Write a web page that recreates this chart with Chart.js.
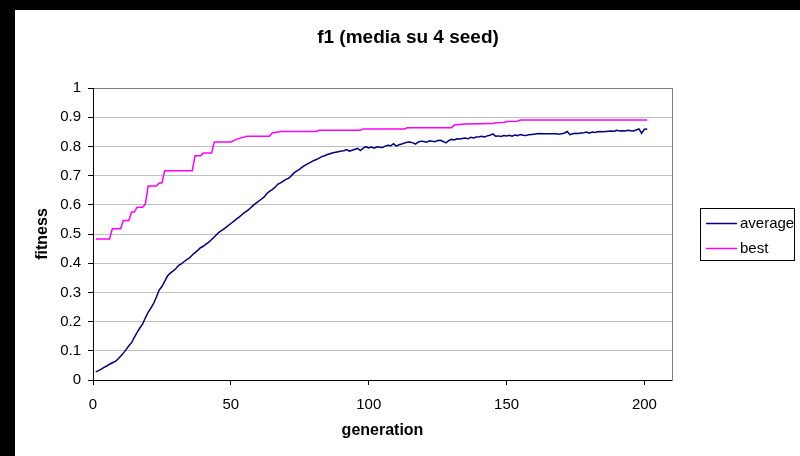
<!DOCTYPE html>
<html>
<head>
<meta charset="utf-8">
<script src="https://cdn.jsdelivr.net/npm/chart.js@4.4.1/dist/chart.umd.min.js"></script>
<style>
  html, body { margin: 0; padding: 0; background: #000; }
  #wrap { position: absolute; left: 15px; top: 10px; width: 785px; height: 446px; background: #fff; }
</style>
</head>
<body>
<div id="wrap"><canvas id="myChart" width="785" height="446"></canvas></div>
<script>
const FONT = "'Liberation Sans', Arial, sans-serif";

// average fitness, one value per generation starting at generation 1
const firstGen = 1;
const avgFitness = [
    0.028, 0.032, 0.037, 0.043, 0.048, 0.054, 0.059, 0.063, 0.071, 0.081,
    0.092, 0.104, 0.117, 0.128, 0.146, 0.163, 0.178, 0.192, 0.213, 0.232,
    0.246, 0.262, 0.284, 0.308, 0.320, 0.338, 0.356, 0.366, 0.373, 0.381,
    0.392, 0.398, 0.405, 0.412, 0.418, 0.428, 0.436, 0.444, 0.453, 0.458,
    0.465, 0.472, 0.481, 0.490, 0.500, 0.508, 0.514, 0.521, 0.529, 0.536,
    0.543, 0.551, 0.558, 0.566, 0.574, 0.580, 0.588, 0.597, 0.605, 0.612,
    0.619, 0.626, 0.638, 0.646, 0.652, 0.660, 0.670, 0.675, 0.681, 0.687,
    0.691, 0.700, 0.710, 0.716, 0.722, 0.730, 0.736, 0.741, 0.746, 0.751,
    0.755, 0.760, 0.765, 0.768, 0.772, 0.775, 0.778, 0.780, 0.782, 0.784,
    0.785, 0.789, 0.784, 0.787, 0.790, 0.793, 0.786, 0.794, 0.799, 0.795,
    0.798, 0.794, 0.799, 0.797, 0.796, 0.801, 0.804, 0.802, 0.809, 0.801,
    0.806, 0.808, 0.812, 0.814, 0.815, 0.812, 0.808, 0.815, 0.818, 0.817,
    0.814, 0.819, 0.818, 0.816, 0.820, 0.821, 0.817, 0.812, 0.820, 0.824,
    0.822, 0.826, 0.825, 0.827, 0.829, 0.826, 0.831, 0.829, 0.832, 0.833,
    0.835, 0.832, 0.836, 0.838, 0.843, 0.835, 0.836, 0.834, 0.837, 0.836,
    0.838, 0.835, 0.839, 0.837, 0.841, 0.838, 0.837, 0.840, 0.841, 0.842,
    0.843, 0.844, 0.843, 0.843, 0.843, 0.843, 0.843, 0.843, 0.842, 0.843,
    0.846, 0.851, 0.840, 0.843, 0.845, 0.844, 0.846, 0.847, 0.849, 0.845,
    0.849, 0.848, 0.850, 0.851, 0.850, 0.851, 0.852, 0.853, 0.852, 0.855,
    0.853, 0.854, 0.853, 0.855, 0.854, 0.853, 0.856, 0.860, 0.845, 0.859,
    0.860
];

// best fitness only changes in steps, so keep the corner points
const bestGen = [1, 6, 7, 10, 11, 13, 14, 15, 16, 18, 19, 20, 23, 24, 25, 26, 36, 37, 39, 40,
    43, 44, 50, 52, 54, 56, 64, 65, 68, 81, 82, 97, 98, 113, 114, 130, 131, 135, 145, 146,
    149, 150, 154, 155, 201];
const bestFitness = [0.483, 0.483, 0.518, 0.518, 0.546, 0.546, 0.575, 0.575, 0.592, 0.592,
    0.603, 0.664, 0.664, 0.675, 0.675, 0.717, 0.717, 0.768, 0.768, 0.777,
    0.777, 0.815, 0.815, 0.824, 0.830, 0.835, 0.835, 0.846, 0.851, 0.851,
    0.855, 0.855, 0.860, 0.860, 0.864, 0.864, 0.873, 0.877, 0.878, 0.881,
    0.882, 0.885, 0.886, 0.890, 0.890];

const seriesNames = ["average", "best"];
const xTicks = [0, 50, 100, 150, 200];

const avgPoints = avgFitness.map((v, i) => ({x: firstGen + i, y: v}));
const bestPoints = bestGen.map((g, i) => ({x: g, y: bestFitness[i]}));

// boxed legend like the spreadsheet one
const legendBox = {
    id: 'legendBox',
    afterDraw(chart) {
        const c = chart.ctx;
        c.save();
        c.strokeStyle = '#000';
        c.lineWidth = 1;
        c.strokeRect(685.5, 198.5, 94, 52);
        c.font = '15px ' + FONT;
        c.textBaseline = 'middle';
        chart.data.datasets.forEach((ds, i) => {
            const y = 213.5 + i * 25;
            c.strokeStyle = ds.borderColor;
            c.lineWidth = 1.5;
            c.beginPath();
            c.moveTo(691, y);
            c.lineTo(722, y);
            c.stroke();
            c.fillStyle = '#000';
            c.fillText(ds.label, 725, y);
        });
        c.restore();
    }
};

const ctx = document.getElementById('myChart').getContext('2d');
const chart = new Chart(ctx, {
    type: 'line',
    data: {
        datasets: [{
            label: seriesNames[0],
            data: avgPoints,
            borderColor: '#000080',
            borderWidth: 1.5,
            pointRadius: 0,
            tension: 0,
            yAxisID: 'y'
        }, {
            label: seriesNames[1],
            data: bestPoints,
            borderColor: '#ff00ff',
            borderWidth: 1.5,
            pointRadius: 0,
            tension: 0,
            yAxisID: 'y'
        }]
    },
    options: {
        responsive: false,
        animation: false,
        devicePixelRatio: 1,
        layout: {padding: {left: 1, top: 0, right: 0, bottom: 0}},
        plugins: {
            legend: {display: false},
            tooltip: {enabled: false},
            title: {
                display: true,
                text: 'f1 (media su 4 seed)',
                color: '#000',
                font: {family: FONT, size: 19, weight: 'bold'},
                padding: {top: 16.6, bottom: 38.6}
            }
        },
        scales: {
            x: {
                type: 'linear',
                min: 0,
                max: 210,
                afterBuildTicks: s => { s.ticks = xTicks.map(v => ({value: v})); },
                ticks: {color: '#000', font: {family: FONT, size: 15}, padding: 11, maxRotation: 0},
                grid: {drawOnChartArea: false, tickLength: 5, tickColor: '#000'},
                border: {color: '#000'},
                title: {
                    display: true,
                    text: 'generation',
                    color: '#000',
                    font: {family: FONT, size: 16, weight: 'bold'},
                    padding: {top: 0, bottom: 16}
                },
                afterFit: s => { s.height = 76; }
            },
            y: {
                min: 0,
                max: 1,
                ticks: {
                    stepSize: 0.1,
                    color: '#000',
                    font: {family: FONT, size: 15},
                    padding: 7,
                    callback: v => String(Number(v.toFixed(1)))
                },
                grid: {
                    color: c => (c.tick && Math.abs(c.tick.value - 1) < 1e-6) ? '#808080' : '#c0c0c0',
                    tickLength: 5,
                    tickColor: '#000'
                },
                border: {color: '#000'},
                title: {
                    display: true,
                    text: 'fitness',
                    color: '#000',
                    font: {family: FONT, size: 16, weight: 'bold'},
                    padding: {top: 17, bottom: 0}
                },
                afterFit: s => { s.width = 77; }
            },
            yRight: {
                position: 'right',
                min: 0,
                max: 1,
                ticks: {display: false},
                grid: {display: false},
                border: {color: '#808080'},
                afterFit: s => { s.width = 128; }
            }
        }
    },
    plugins: [legendBox]
});
</script>
</body>
</html>
